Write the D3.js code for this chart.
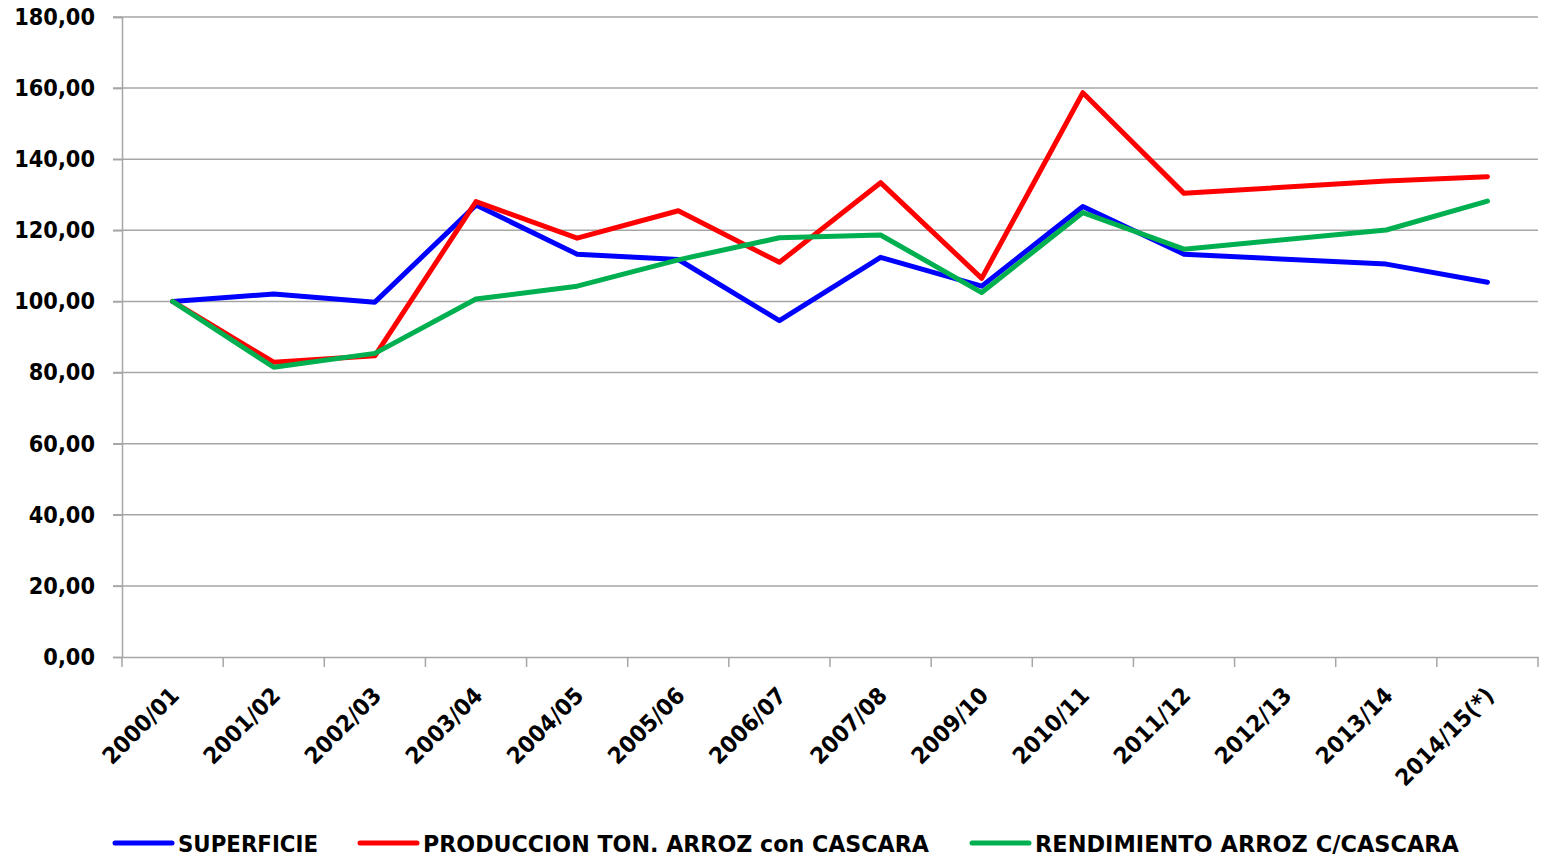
<!DOCTYPE html>
<html>
<head>
<meta charset="utf-8">
<script src="https://cdn.jsdelivr.net/npm/d3@7/dist/d3.min.js"></script>
<style>
  html, body { margin: 0; padding: 0; background: #fff; }
  svg { display: block; }
  text { font-family: "DejaVu Sans", sans-serif; font-weight: bold; fill: #000; }
</style>
</head>
<body>
<svg id="chart" width="1558" height="859"></svg>
<script>
const categories = ["2000/01","2001/02","2002/03","2003/04","2004/05","2005/06","2006/07","2007/08","2009/10","2010/11","2011/12","2012/13","2013/14","2014/15(*)"];
const superficie = [100.0, 102.1, 99.8, 127.1, 113.3, 111.8, 94.6, 112.4, 104.3, 126.7, 113.3, null, 110.5, 105.4];
const produccion = [100.0, 82.9, 84.7, 128.1, 117.8, 125.5, 111.0, 133.4, 106.5, 158.7, 130.4, null, 133.9, 135.1];
const rendimiento = [100.0, 81.5, 85.4, 100.7, 104.3, 111.7, 117.9, 118.7, 102.5, 125.0, 114.7, null, 120.1, 128.2];
const yTicks = [0, 20, 40, 60, 80, 100, 120, 140, 160, 180];
const seriesNames = ["SUPERFICIE", "PRODUCCION TON. ARROZ con CASCARA", "RENDIMIENTO ARROZ C/CASCARA"];
const seriesColors = ["#0000ff", "#ff0000", "#00b050"];

const series = [superficie, produccion, rendimiento].map((vals, i) => ({
  name: seriesNames[i], color: seriesColors[i],
  values: vals.map((v, j) => ({ cat: categories[j], v }))
}));

const svg = d3.select("#chart");
const mLeft = 122, mRight = 1538, mTop = 17, mBottom = 657;

const x = d3.scaleBand().domain(categories).range([mLeft, mRight]).padding(0);
const y = d3.scaleLinear().domain([0, 180]).range([mBottom, mTop]);
const fmt = v => d3.format(".2f")(v).replace(".", ",");

// gridlines
svg.append("g").selectAll("line").data(yTicks.filter(t => t > 0)).join("line")
  .attr("x1", mLeft - 9).attr("x2", mRight)
  .attr("y1", d => y(d)).attr("y2", d => y(d))
  .attr("stroke", "#a6a6a6").attr("stroke-width", 1.5);

// y axis
const yAxis = svg.append("g").attr("transform", `translate(${mLeft},0)`)
  .call(d3.axisLeft(y).tickValues(yTicks).tickFormat(fmt).tickSize(9).tickPadding(18));
yAxis.select(".domain").attr("stroke", "#a6a6a6").attr("stroke-width", 1.5);
yAxis.selectAll(".tick line").attr("stroke", "#a6a6a6").attr("stroke-width", 1.5);
yAxis.selectAll(".tick text")
  .style("font-size", "23px").style("font-family", "DejaVu Sans").style("font-weight", "bold")
  .attr("fill", "#000")
  .each(function () {
    const w = this.getComputedTextLength();
    d3.select(this).attr("textLength", w * 0.91).attr("lengthAdjust", "spacingAndGlyphs");
  });

// x axis
const xAxis = svg.append("g").attr("transform", `translate(0,${mBottom})`)
  .call(d3.axisBottom(x).tickSize(0).tickFormat(""));
xAxis.select(".domain").attr("stroke", "#a6a6a6").attr("stroke-width", 1.5);
const bounds = categories.map(c => x(c)).concat([x(categories[categories.length - 1]) + x.bandwidth()]);
svg.append("g").selectAll("line").data(bounds).join("line")
  .attr("x1", d => d).attr("x2", d => d)
  .attr("y1", mBottom).attr("y2", mBottom + 10)
  .attr("stroke", "#a6a6a6").attr("stroke-width", 1.5);

svg.append("g").selectAll("text").data(categories).join("text")
  .attr("transform", d => `translate(${x(d) + x.bandwidth() / 2 + 8},${mBottom + 40}) rotate(-45)`)
  .attr("text-anchor", "end")
  .style("font-size", "23px")
  .text(d => d)
  .each(function () {
    const w = this.getComputedTextLength();
    d3.select(this).attr("textLength", w * 0.93).attr("lengthAdjust", "spacingAndGlyphs");
  });

// lines
const line = d3.line()
  .x(d => x(d.cat) + x.bandwidth() / 2)
  .y(d => y(d.v));

svg.append("g").selectAll("path").data(series).join("path")
  .attr("d", d => line(d.values.filter(p => p.v !== null)))
  .attr("fill", "none")
  .attr("stroke", d => d.color)
  .attr("stroke-width", 5)
  .attr("stroke-linejoin", "round")
  .attr("stroke-linecap", "round");

// legend
const legendX = [115, 360, 972];
const legendW = [140, 506, 424];
const lg = svg.append("g").selectAll("g").data(series).join("g")
  .attr("transform", (d, i) => `translate(${legendX[i]},843)`);
lg.append("line").attr("x1", 0).attr("x2", 57).attr("y1", 0).attr("y2", 0)
  .attr("stroke", d => d.color).attr("stroke-width", 5).attr("stroke-linecap", "round");
lg.append("text").attr("x", 63).attr("y", 9)
  .style("font-size", "23px")
  .attr("textLength", (d, i) => legendW[i])
  .attr("lengthAdjust", "spacingAndGlyphs")
  .text(d => d.name);
</script>
</body>
</html>
